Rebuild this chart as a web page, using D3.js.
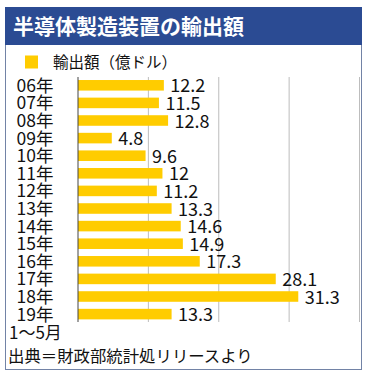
<!DOCTYPE html>
<html><head><meta charset="utf-8">
<script src="https://cdn.jsdelivr.net/npm/d3@7"></script>
<style>
html,body{margin:0;padding:0;background:#fff;}
svg{display:block;font-family:"Noto Sans CJK JP","Noto Sans",sans-serif;}
</style></head>
<body><svg id="c" width="368" height="378"></svg>
<script>
const title = "半導体製造装置の輸出額";
const legendLabel = "輸出額（億ドル）";
const categories = ["06年","07年","08年","09年","10年","11年","12年","13年","14年","15年","16年","17年","18年","19年"];
const values = [12.2, 11.5, 12.8, 4.8, 9.6, 12, 11.2, 13.3, 14.6, 14.9, 17.3, 28.1, 31.3, 13.3];
const valueLabels = ["12.2","11.5","12.8","4.8","9.6","12","11.2","13.3","14.6","14.9","17.3","28.1","31.3","13.3"];
const gridTicks = [10, 20, 30, 40];
const note = "1～5月";
const source = "出典＝財政部統計処リリースより";

const svg = d3.select("#c");
const barColor = "#ffcc00";

// frame
svg.append("rect").attr("x",5.5).attr("y",7.5).attr("width",356).attr("height",362)
  .attr("fill","#fff").attr("stroke","#7283a6").attr("stroke-width",1);
// title bar
svg.append("rect").attr("x",5).attr("y",7).attr("width",357).attr("height",38).attr("fill","#2b4b93");
svg.append("text").attr("x",13).attr("y",34).attr("fill","#fff")
  .attr("font-size",21).attr("font-weight","bold").text(title);

// legend
svg.append("rect").attr("x",25).attr("y",55.5).attr("width",13).attr("height",13).attr("fill",barColor);
svg.append("text").attr("x",53).attr("y",67.5).attr("font-size",15.5).attr("fill","#111").text(legendLabel);

const x = d3.scaleLinear().domain([0,40]).range([78,359.5]);
const y = d3.scaleBand().domain(categories).range([76.5,322.9]).paddingInner(0.4).paddingOuter(0.2);

// grid
svg.append("g").selectAll("line").data(gridTicks).join("line")
  .attr("x1",d=>x(d)).attr("x2",d=>x(d)).attr("y1",77).attr("y2",322)
  .attr("stroke","#bdbdbd").attr("stroke-width",1);

// bars
svg.append("g").selectAll("rect").data(values).join("rect")
  .attr("x",x(0)).attr("y",(d,i)=>y(categories[i]))
  .attr("width",d=>x(d)-x(0)).attr("height",y.bandwidth()).attr("fill",barColor);

// axis line
svg.append("line").attr("x1",x(0)).attr("x2",x(0)).attr("y1",77).attr("y2",322)
  .attr("stroke","#444").attr("stroke-width",1);

// category labels
svg.append("g").selectAll("text").data(categories).join("text")
  .attr("x",53.5).attr("y",d=>y(d)+y.bandwidth()/2+6.5)
  .attr("text-anchor","end").attr("font-size",17.5).attr("fill","#111").text(d=>d);

// value labels
svg.append("g").selectAll("text").data(values).join("text")
  .attr("x",d=>x(d)+6.5).attr("y",(d,i)=>y(categories[i])+y.bandwidth()/2+7)
  .attr("font-size",18).attr("fill","#111").text((d,i)=>valueLabels[i]);

svg.append("text").attr("x",9).attr("y",339).attr("font-size",17).attr("fill","#111").text(note);
svg.append("text").attr("x",8).attr("y",362).attr("font-size",16.4).attr("fill","#111").text(source);
</script></body></html>
